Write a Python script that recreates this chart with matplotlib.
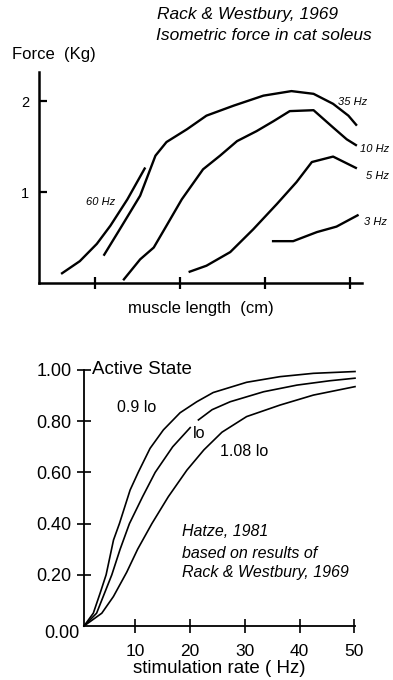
import matplotlib
matplotlib.use("Agg")
import matplotlib.pyplot as plt

plt.rcParams['font.family'] = ['Liberation Sans', 'DejaVu Sans']

# ---------------- top panel data (Rack & Westbury 1969) ----------------
len_60 = [0.60, 0.82, 1.02, 1.18, 1.38, 1.59]
force_60 = [0.10, 0.24, 0.43, 0.63, 0.92, 1.27]

len_35 = [1.10, 1.29, 1.53, 1.71, 1.84, 2.08, 2.31, 2.63, 2.98, 3.31, 3.57, 3.80, 3.98, 4.08]
force_35 = [0.30, 0.59, 0.96, 1.40, 1.55, 1.69, 1.84, 1.95, 2.06, 2.11, 2.08, 1.97, 1.84, 1.73]

len_10 = [1.33, 1.53, 1.69, 1.84, 2.02, 2.27, 2.47, 2.67, 2.90, 3.10, 3.29, 3.57, 3.80, 3.96, 4.08]
force_10 = [0.03, 0.26, 0.39, 0.63, 0.92, 1.25, 1.40, 1.56, 1.67, 1.78, 1.89, 1.90, 1.71, 1.58, 1.51]

len_5 = [2.10, 2.31, 2.59, 2.86, 3.14, 3.37, 3.55, 3.80, 4.08]
force_5 = [0.12, 0.19, 0.34, 0.59, 0.87, 1.11, 1.33, 1.39, 1.26]

len_3 = [3.08, 3.33, 3.61, 3.84, 4.10]
force_3 = [0.46, 0.46, 0.56, 0.62, 0.75]

top_series_labels = ["60 Hz", "35 Hz", "10 Hz", "5 Hz", "3 Hz"]
top_yticks = [1, 2]
top_ytick_labels = ["1", "2"]
top_xticks = [1, 2, 3, 4]

# ---------------- bottom panel data (Hatze 1981) ----------------
rate_09 = [0.6, 2.3, 3.54, 4.64, 5.99, 7.07, 9.02, 10.5, 12.67, 15.1, 18.15,
           21.2, 24.2, 30.3, 36.4, 42.5, 50.1]
act_09 = [0.0, 0.05, 0.128, 0.20, 0.336, 0.40, 0.531, 0.60, 0.694, 0.766, 0.833,
          0.876, 0.912, 0.952, 0.974, 0.987, 0.994]

rate_lo_a = [0.6, 2.9, 5.68, 7.2, 8.9, 11.3, 13.6, 16.8, 20.0]
act_lo_a = [0.0, 0.05, 0.20, 0.30, 0.40, 0.505, 0.60, 0.70, 0.775]
rate_lo_b = [21.5, 24.0, 27.3, 33.4, 39.5, 45.5, 50.1]
act_lo_b = [0.805, 0.845, 0.876, 0.915, 0.941, 0.958, 0.968]

rate_108 = [0.6, 3.85, 5.97, 8.4, 10.4, 13.0, 16.0, 19.4, 22.5, 25.8, 30.3, 36.4, 42.5, 50.1]
act_108 = [0.0, 0.05, 0.115, 0.21, 0.30, 0.40, 0.505, 0.609, 0.688, 0.757, 0.818, 0.863, 0.902, 0.935]

bottom_series_labels = ["0.9 lo", "lo", "1.08 lo"]
bottom_xticks = [10, 20, 30, 40, 50]
bottom_yticks = [0.2, 0.4, 0.6, 0.8, 1.0]
bottom_ytick_labels = ["0.20", "0.40", "0.60", "0.80", "1.00"]

W, H = 393, 680
fig = plt.figure(figsize=(W / 100, H / 100), dpi=100)


def fx(px):
    return px / W


def fy(py):
    return 1 - py / H


# ================= TOP =================
ax1 = fig.add_axes([fx(39), fy(283), fx(362) - fx(39), fy(72) - fy(283)])
lw_top = 1.7
for xs, ys in [(len_60, force_60), (len_35, force_35), (len_10, force_10),
               (len_5, force_5), (len_3, force_3)]:
    ax1.plot(xs, ys, color='black', lw=lw_top, solid_capstyle='butt', clip_on=False)
ax1.set_xlim(0.34, 4.14)
ax1.set_ylim(0, 2.32)
for s in ['top', 'right']:
    ax1.spines[s].set_visible(False)
for s in ['left', 'bottom']:
    ax1.spines[s].set_linewidth(1.8)
ax1.set_yticks(top_yticks)
ax1.set_yticklabels(top_ytick_labels, fontsize=10.5)
ax1.tick_params(axis='y', direction='in', length=6, width=1.6, pad=7)
ax1.set_xticks(top_xticks)
ax1.set_xticklabels([])
ax1.tick_params(axis='x', direction='inout', length=9, width=1.6)
ax1.set_xlabel("muscle length  (cm)", fontsize=12, labelpad=5)

lab_kw = dict(fontsize=8, style='italic', va='center', ha='left')
ax1.text(0.89, 0.89, top_series_labels[0], **lab_kw)
ax1.text(3.86, 1.99, top_series_labels[1], **lab_kw)
ax1.text(4.12, 1.47, top_series_labels[2], **lab_kw)
ax1.text(4.19, 1.18, top_series_labels[3], **lab_kw)
ax1.text(4.16, 0.67, top_series_labels[4], **lab_kw)

fig.text(fx(12), fy(55), "Force  (Kg)", fontsize=12, ha='left', va='center')
fig.text(fx(157), fy(14), "Rack & Westbury, 1969", fontsize=12.5, style='italic',
         ha='left', va='center')
fig.text(fx(156), fy(35), "Isometric force in cat soleus", fontsize=12.5, style='italic',
         ha='left', va='center')

# ================= BOTTOM =================
ax2 = fig.add_axes([fx(84), fy(626), fx(355) - fx(84), fy(370) - fy(626)])
lw_bot = 1.2
ax2.plot(rate_09, act_09, color='black', lw=lw_bot, clip_on=False)
ax2.plot(rate_lo_a, act_lo_a, color='black', lw=lw_bot, clip_on=False)
ax2.plot(rate_lo_b, act_lo_b, color='black', lw=lw_bot, clip_on=False)
ax2.plot(rate_108, act_108, color='black', lw=lw_bot, clip_on=False)
ax2.set_xlim(0.6, 50.1)
ax2.set_ylim(0, 1.0)
for s in ['top', 'right']:
    ax2.spines[s].set_visible(False)
for s in ['left', 'bottom']:
    ax2.spines[s].set_linewidth(1.3)
ax2.set_xticks(bottom_xticks)
ax2.set_xticklabels([str(v) for v in bottom_xticks], fontsize=12.5)
ax2.tick_params(axis='x', direction='inout', length=10, width=1.2, pad=8)
ax2.set_yticks(bottom_yticks)
ax2.set_yticklabels(bottom_ytick_labels, fontsize=13)
ax2.tick_params(axis='y', direction='inout', length=10, width=1.2, pad=4)
ax2.set_xlabel("stimulation rate ( Hz)", fontsize=13.5, labelpad=0.5)

fig.text(fx(62), fy(633), "0.00", fontsize=13, ha='center', va='center')
fig.text(fx(92), fy(369), "Active State", fontsize=13.5, ha='left', va='center')

ax2.text(6.6, 0.855, bottom_series_labels[0], fontsize=11.5, ha='left', va='center')
ax2.text(20.4, 0.75, bottom_series_labels[1], fontsize=11.5, ha='left', va='center')
ax2.text(25.4, 0.68, bottom_series_labels[2], fontsize=11.5, ha='left', va='center')

ann_kw = dict(fontsize=11.5, style='italic', ha='left', va='center')
fig.text(fx(182), fy(532), "Hatze, 1981", **ann_kw)
fig.text(fx(182), fy(553), "based on results of", **ann_kw)
fig.text(fx(182), fy(573), "Rack & Westbury, 1969", **ann_kw)

fig.savefig("out.png", dpi=100)
